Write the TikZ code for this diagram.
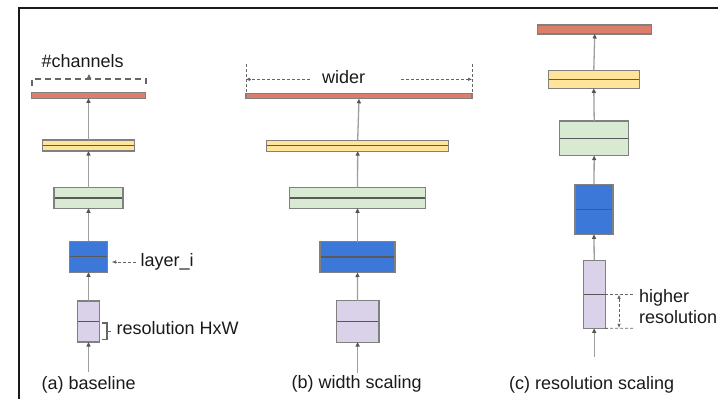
\documentclass[tikz,border=0pt]{standalone}
\usepackage{fontspec}
\setmainfont{Liberation Sans}
\usetikzlibrary{arrows.meta}

\definecolor{redbar}{HTML}{DD7E6B}
\definecolor{yellowbar}{HTML}{FFE599}
\definecolor{greenbar}{HTML}{D9EAD3}
\definecolor{bluebar}{HTML}{3C78D8}
\definecolor{lavbar}{HTML}{D9D2E9}
\definecolor{edgegray}{HTML}{808080}
\definecolor{splitgray}{HTML}{595959}
\definecolor{flowgray}{HTML}{9E9E9E}
\definecolor{tipgray}{HTML}{555555}
\definecolor{annot}{HTML}{666666}
\definecolor{inkdark}{HTML}{1A1A1A}

\begin{document}
\begin{tikzpicture}[x=1pt,y=-1pt,
  blk/.style={draw=edgegray, line width=1.1pt, inner sep=0pt, outer sep=0pt},
  mid/.style={path picture={\draw[splitgray, line width=1.1pt]
      (path picture bounding box.west) -- (path picture bounding box.east);}},
  flow/.style={draw=flowgray, line width=1.3pt,
      -{Triangle[length=4.5pt,width=4pt,color=tipgray]}},
  brk/.style={draw=annot, line width=1.4pt, dash pattern=on 6pt off 4pt},
  dimline/.style={draw=annot, line width=0.8pt, dash pattern=on 3pt off 2pt},
  dimtip/.style={-{Triangle[length=4pt,width=3pt,color=annot]}},
  lbl/.style={inner sep=0pt, anchor=base west, text=inkdark,
      font=\fontsize{18}{20}\selectfont}
]
\useasboundingbox (0,0) rectangle (718,399);

% frame
\draw[inkdark, line width=2pt] (18.5,399) -- (18.5,7.5) -- (718,7.5);

% ---------- (a) baseline ----------
\node[blk, fill=redbar, minimum width=114pt, minimum height=5.5pt] (a5) at (88.5,95.5) {};
\node[blk, mid, fill=yellowbar, minimum width=92pt, minimum height=11pt] (a4) at (88.5,145.5) {};
\node[blk, mid, fill=greenbar, minimum width=69pt, minimum height=20.6pt] (a3) at (88.5,198) {};
\node[blk, mid, fill=bluebar, minimum width=38pt, minimum height=31pt] (a2) at (88.5,256.8) {};
\node[blk, mid, fill=lavbar, minimum width=22pt, minimum height=41pt] (a1) at (88.5,321.5) {};
\coordinate (a0) at (88.5,372);
\draw[flow] (a0) -- (a1.south);
\draw[flow] (a1.north) -- (a2.south);
\draw[flow] (a2.north) -- (a3.south);
\draw[flow] (a3.north) -- (a4.south);
\draw[flow] (a4.north) -- (a5.south);

% channel bracket
\coordinate (chL) at (32,86);
\coordinate (chR) at (146,86);
\draw[brk] (chL) -- (32,79) -- (146,79) -- (chR);
\coordinate (chTip) at (89,74);
\draw[draw=annot, line width=1pt,
  -{Triangle[length=5pt,width=4.5pt,color=annot]}] (89,79.5) -- (chTip);
\node[lbl] (chtxt) at (41.5,67) {\#channels};

% layer pointer
\node[lbl] (laytxt) at (140.5,266) {layer\_i};
\coordinate (layFrom) at (136,262);
\coordinate (layTo) at (112,262);
\draw[dimline, dimtip] (layFrom) -- (layTo);

% resolution brace
\draw[draw=annot, line width=1.4pt]
  (102,323) -- (107,323) -- (107,339.5) -- (102,339.5)
  (107,331.2) -- (110.5,331.2);
\node[lbl] (restxt) at (116.5,334.5) {resolution HxW};

\node[lbl] (capa) at (41.5,389) {(a) baseline};

% ---------- (b) width scaling ----------
\node[blk, fill=redbar, minimum width=226pt, minimum height=5.5pt] (b5) at (359,96) {};
\node[blk, mid, fill=yellowbar, minimum width=182pt, minimum height=11pt] (b4) at (357.7,145.6) {};
\node[blk, mid, fill=greenbar, minimum width=136.4pt, minimum height=20.6pt] (b3) at (357.5,198) {};
\node[blk, mid, fill=bluebar, minimum width=75pt, minimum height=31pt] (b2) at (357.5,257) {};
\node[blk, mid, fill=lavbar, minimum width=42.7pt, minimum height=41.3pt] (b1) at (357.6,321.4) {};
\coordinate (b0) at (357.6,373);
\draw[flow] (b0) -- (b1.south);
\draw[flow] (b1.north) -- (b2.south);
\draw[flow] (b2.north) -- (b3.south);
\draw[flow] (b3.north) -- (b4.south);
\draw[flow] (b4.north) -- (b5.south);

% width markers
\node[lbl] (widetxt) at (322,83.5) {wider};
\coordinate (wL) at (246,79.3);
\coordinate (wR) at (472,79.3);
\draw[dimline] (246,64) -- (246,93);
\draw[dimline] (472,64) -- (472,93);
\draw[dimline, dimtip] (310,79.3) -- (wL);
\draw[dimline, dimtip] (401,79.3) -- (wR);

\node[lbl] (capb) at (291.5,388) {(b) width scaling};

% ---------- (c) resolution scaling ----------
\node[blk, fill=redbar, minimum width=114pt, minimum height=9pt] (c5) at (594.7,29.5) {};
\node[blk, mid, fill=yellowbar, minimum width=91pt, minimum height=18pt] (c4) at (593.8,79.3) {};
\node[blk, mid, fill=greenbar, minimum width=69pt, minimum height=34.7pt] (c3) at (594.2,138.3) {};
\node[blk, mid, fill=bluebar, minimum width=38pt, minimum height=50pt] (c2) at (594,209.3) {};
\node[blk, mid, fill=lavbar, minimum width=21.7pt, minimum height=68.3pt] (c1) at (594.2,294.2) {};
\coordinate (c0) at (594.2,357);
\draw[flow] (c0) -- (c1.south);
\draw[flow] (c1.north) -- (c2.south);
\draw[flow] (c2.north) -- (c3.south);
\draw[flow] (c3.north) -- (c4.south);
\draw[flow] (c4.north) -- (c5.south);

% resolution markers
\draw[dimline] (c1.east) -- (635,294.2);
\draw[dimline] (c1.south east) -- (635,328.3);
\coordinate (hT) at (619,294.8);
\coordinate (hB) at (619,327.8);
\draw[dimline, {Triangle[length=4pt,width=3pt,color=annot]}-{Triangle[length=4pt,width=3pt,color=annot]}] (hT) -- (hB);
\node[lbl] (hitxt) at (639,302) {higher};
\node[lbl] (hrtxt) at (639,323.5) {resolution};

\node[lbl] (capc) at (509,389.5) {(c) resolution scaling};
\end{tikzpicture}
\end{document}
